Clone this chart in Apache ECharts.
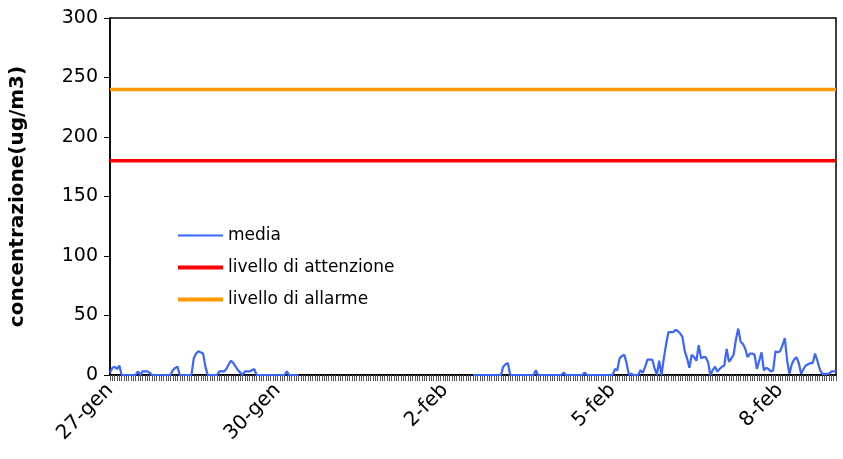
<!DOCTYPE html>
<html>
<head>
<meta charset="utf-8">
<script src="https://cdn.jsdelivr.net/npm/echarts@6/dist/echarts.min.js"></script>
<style>html,body{margin:0;padding:0;background:#fff}#c{width:843px;height:459px}</style>
</head>
<body>
<div id="c"></div>
<script>
// Hourly categories: 27-gen 00:00 ... 9-feb 00:00 (313 points)
const dayLabels = ['27-gen','28-gen','29-gen','30-gen','31-gen','1-feb','2-feb','3-feb','4-feb','5-feb','6-feb','7-feb','8-feb','9-feb'];
const categories = [];
for (let d = 0; d < dayLabels.length; d++) {
  for (let h = 0; h < 24; h++) {
    if (d === dayLabels.length - 1 && h > 0) break;
    categories.push(dayLabels[d] + ' ' + h + ':00');
  }
}
const labelEvery = 72; // show a date label every 3 days

// media (ug/m3), hourly values; null = missing data
const media = [
  2,6,7,5,8,0,0,0,0,0,0,0,3,0,3,3,3,2,0,0,0,0,0,0,
  0,0,0,4,6,7,0,0,0,0,0,0,14,18,20,19,18,7,0,0,0,0,0,3,
  3,3,5,9,12,10,7,4,2,0,3,3,3,4,5,0,0,0,0,0,0,0,0,0,
  0,0,0,0,3,0,0,0,0,0,null,null,null,null,null,null,null,null,null,null,
  null,null,null,null,null,null,null,null,null,null,null,null,null,null,null,null,null,null,null,null,
  null,null,null,null,null,null,null,null,null,null,null,null,null,null,null,null,null,null,null,null,
  null,null,null,null,null,null,null,null,null,null,null,null,null,null,null,null,null,null,null,null,
  null,null,null,null,0,0,0,0,0,0,0,0,0,0,0,0,
  0,7,9,10,0,0,0,0,0,0,0,0,0,0,0,4,0,0,0,0,0,0,0,0,
  0,0,0,2,0,0,0,0,0,0,0,0,2,0,0,0,0,0,0,0,0,0,0,0,
  0,5,4,14,16,17,10,0,1,0,0,0,4,2,7,13,13,13,6,0,12,0,14,26,
  36,36,36,38,37,35,32,20,14,6,17,15,12,25,14,15,15,11,0,4,7,3,5,7,
  8,22,11,14,17,30,39,28,26,22,15,18,18,17,5,12,19,4,6,5,3,4,20,19,
  20,25,31,12,1,9,13,15,10,1,5,8,9,10,10,18,12,5,1,1,1,1,3,3,
  3
];
const livelloAttenzione = 180;
const livelloAllarme = 240;
const yTicks = [0, 50, 100, 150, 200, 250, 300];

const chart = echarts.init(document.getElementById('c'), null, {renderer: 'canvas'});
const font = 'DejaVu Sans';
const last = categories.length - 1;
function legendFor(name, top, h) {
  return {
    data: [{name: name, icon: 'rect'}],
    orient: 'vertical', left: 173, top: top,
    itemWidth: 45, itemHeight: h, itemGap: 0,
    textStyle: {fontFamily: font, fontSize: 17, color: '#000', padding: [0,0,0,0]},
    selectedMode: false
  };
}
chart.setOption({
  animation: false,
  backgroundColor: '#fff',
  grid: {left: 110, right: 7, top: 18, bottom: 84, show: true, borderColor: '#000', borderWidth: 1.5, backgroundColor: 'transparent'},
  legend: [
    legendFor('media', 222, 2),
    legendFor('livello di attenzione', 254, 4),
    legendFor('livello di allarme', 286, 4)
  ],
  xAxis: {
    type: 'category', data: categories, boundaryGap: false,
    axisLine: {show: true, lineStyle: {color: '#000', width: 2}},
    axisTick: {show: true, interval: 0, length: 6, lineStyle: {color: '#555', width: 1}},
    axisLabel: {
      interval: function (i) { return i % labelEvery === 0 && i < last; },
      formatter: function (v) { return v.split(' ')[0]; },
      rotate: 45, fontFamily: font, fontSize: 20, color: '#000', margin: 12
    },
    splitLine: {show: false}
  },
  yAxis: {
    type: 'value', min: 0, max: 300, interval: 50,
    name: 'concentrazione(ug/m3)', nameLocation: 'middle', nameGap: 82,
    nameTextStyle: {fontFamily: font, fontSize: 20, fontWeight: 'bold', color: '#000'},
    axisLine: {show: true, lineStyle: {color: '#000', width: 1.5}},
    axisTick: {show: true, length: 6, inside: false, lineStyle: {color: '#000'}},
    axisLabel: {fontFamily: font, fontSize: 19, color: '#000', margin: 12,
      formatter: function (v) { return yTicks.indexOf(v) >= 0 ? String(v) : ''; }},
    splitLine: {show: false}
  },
  series: [
    {name: 'media', type: 'line', data: media, showSymbol: false, connectNulls: false,
     lineStyle: {color: '#3A66FF', width: 2.2}, itemStyle: {color: '#3A66FF'}, zlevel: 1},
    {name: 'livello di attenzione', type: 'line', showSymbol: false,
     data: [[categories[0], livelloAttenzione], [categories[last], livelloAttenzione]],
     lineStyle: {color: '#FF0000', width: 3.5}, itemStyle: {color: '#FF0000'}},
    {name: 'livello di allarme', type: 'line', showSymbol: false,
     data: [[categories[0], livelloAllarme], [categories[last], livelloAllarme]],
     lineStyle: {color: '#FF9900', width: 3.5}, itemStyle: {color: '#FF9900'}}
  ]
});
</script>
</body>
</html>
